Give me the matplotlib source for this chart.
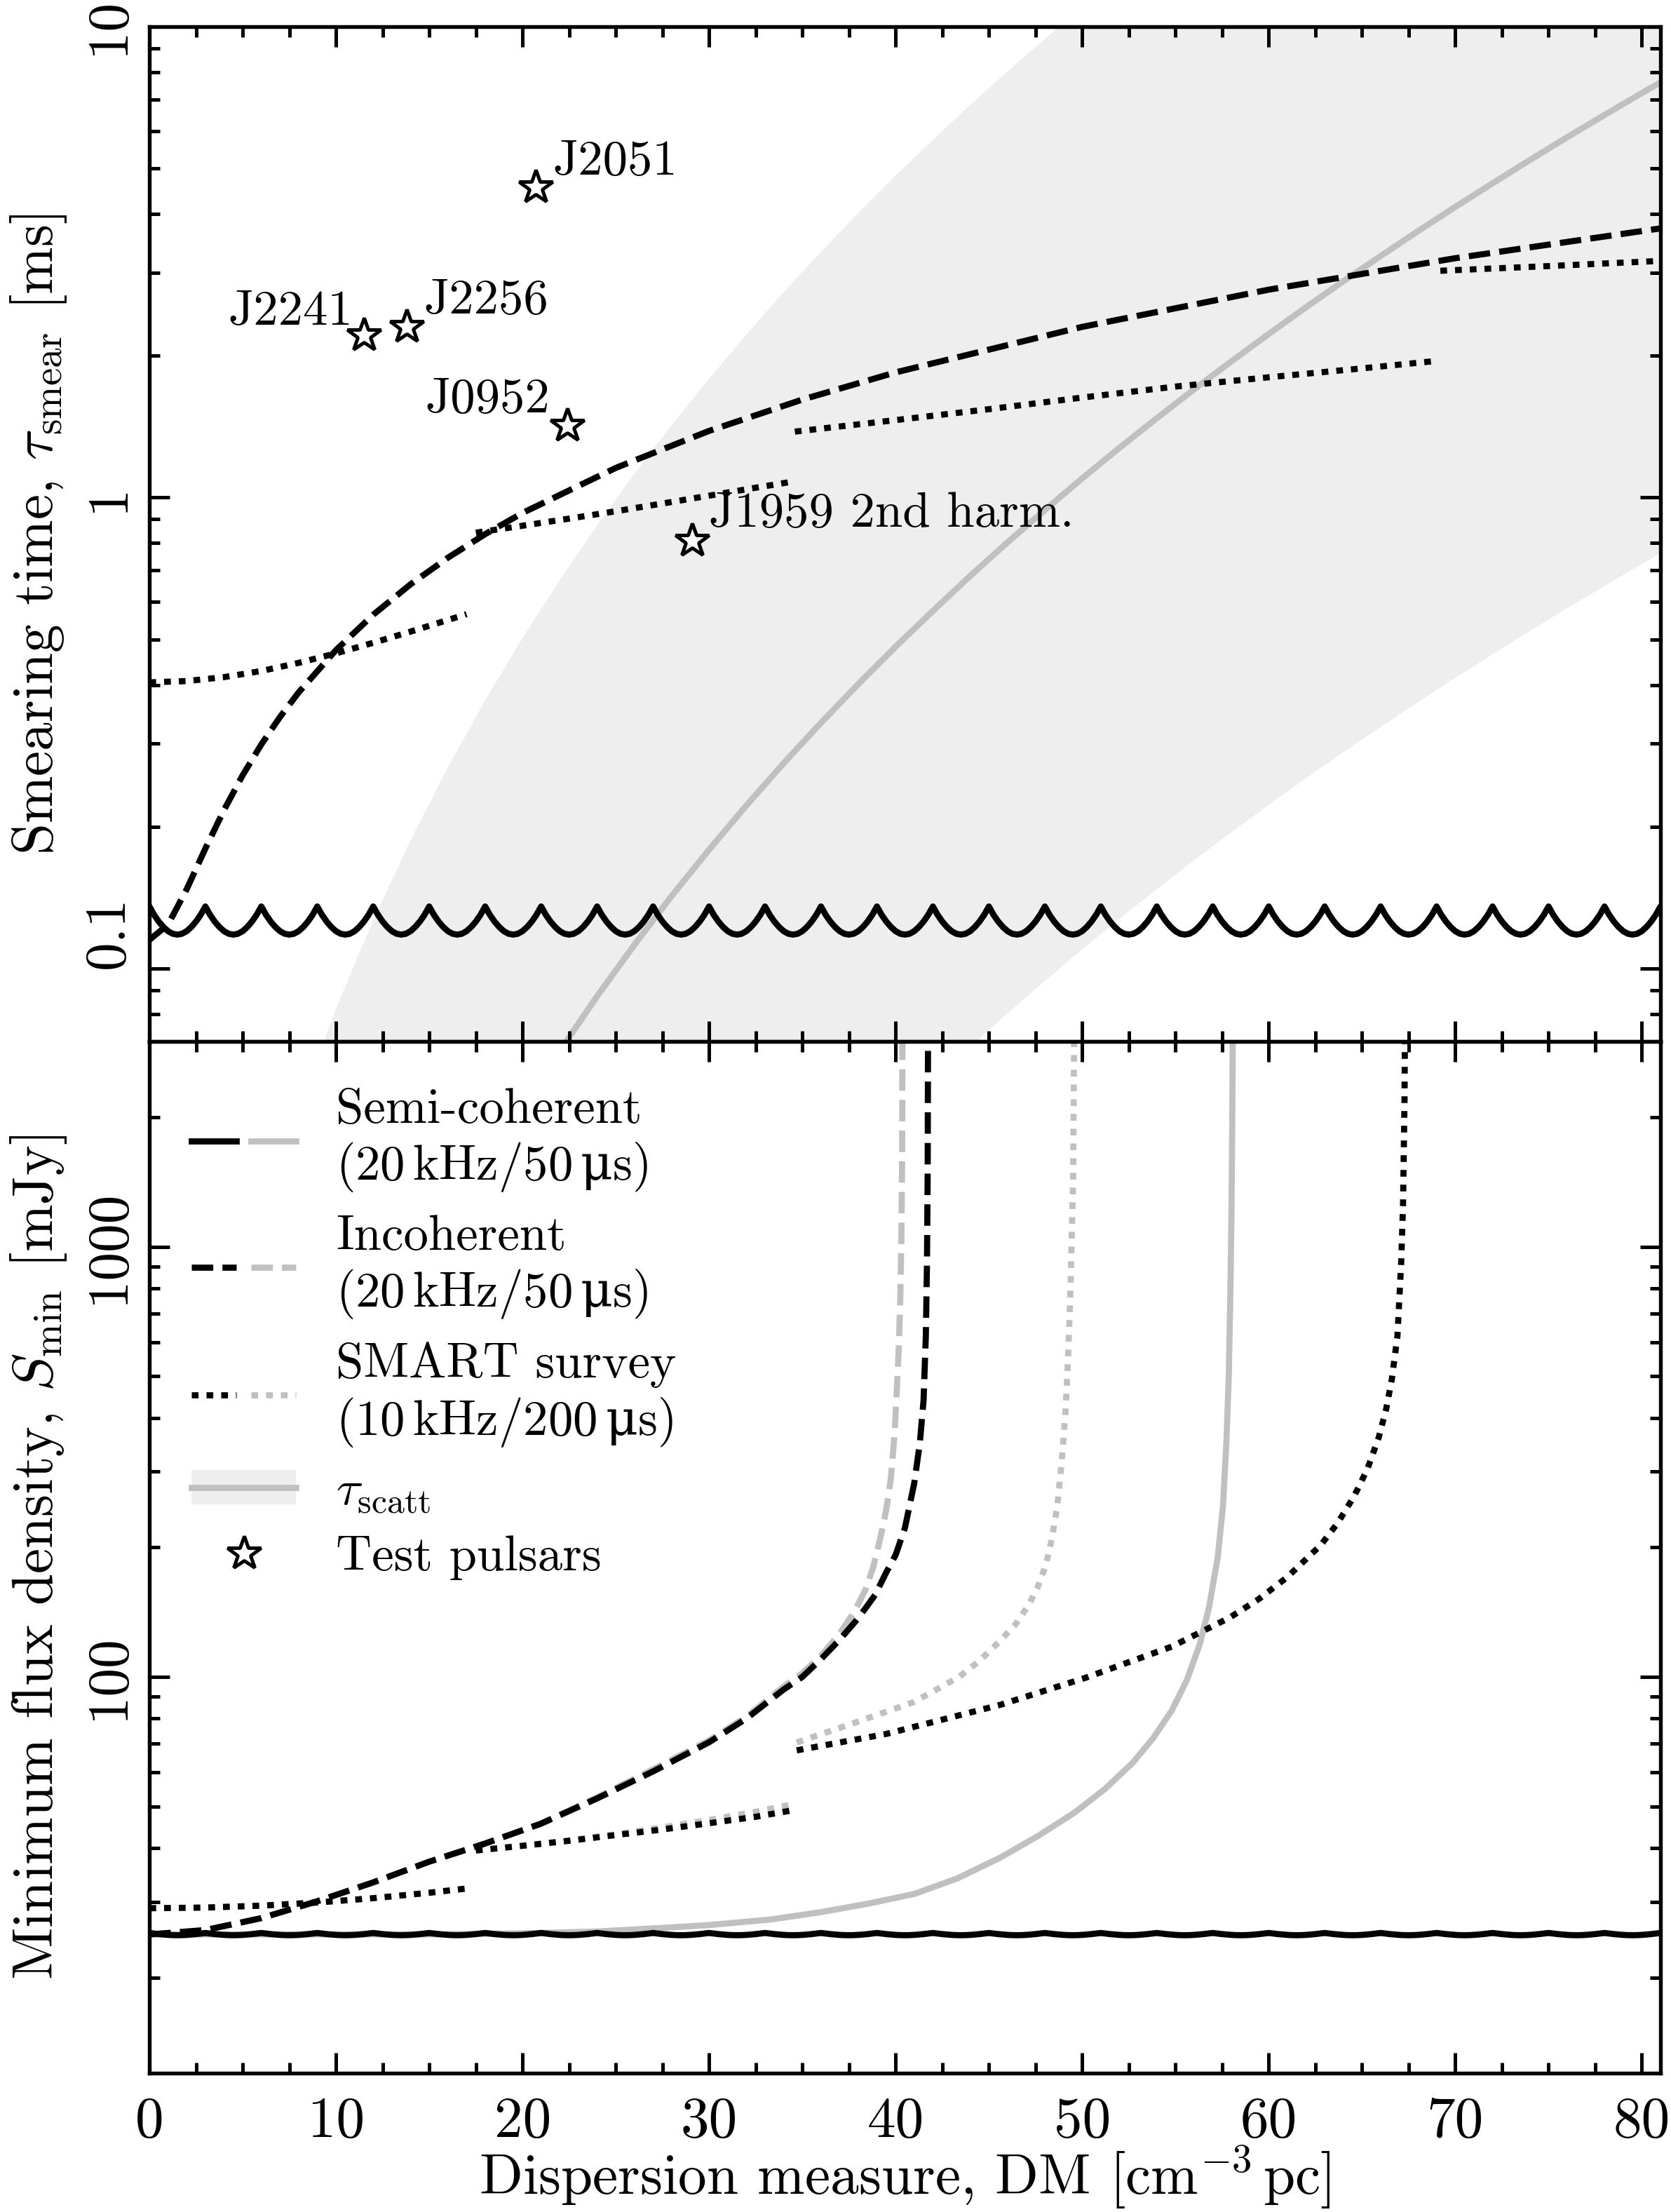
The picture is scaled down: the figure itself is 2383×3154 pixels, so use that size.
import numpy as np
import matplotlib
matplotlib.use('Agg')
import matplotlib.pyplot as plt
from matplotlib.lines import Line2D
from matplotlib.patches import Patch
from matplotlib.legend_handler import HandlerTuple
from matplotlib.ticker import MultipleLocator, LogLocator, NullFormatter

plt.rcParams['font.family'] = ['cmr10', 'DejaVu Serif']
plt.rcParams['mathtext.fontset'] = 'cm'
plt.rcParams['axes.unicode_minus'] = False
plt.rcParams['axes.formatter.use_mathtext'] = True

GREY = '#c0c0c0'
BAND = '#eeeeee'
LW = 2.1
DASH = (0, (3.5, 1.5))
DOT = (0, (1.1, 1.3))

# ---------------- data: top panel (smearing time, ms) ----------------
# semi-coherent: trial DMs every 3 pc/cc, one half-period of the scallop
semi_trial_dm = np.arange(1.5, 84, 3.0)
semi_offset = [0.0, 0.25, 0.5, 0.75, 1.0, 1.25, 1.5]
semi_tsmear = [0.118, 0.1185, 0.1200, 0.1225, 0.1258, 0.1300, 0.1354]
semi_smin = [25.10, 25.11, 25.14, 25.19, 25.25, 25.32, 25.40]

inc_dm = [0, 1, 2, 3, 4, 5, 6, 7, 8, 10, 12, 14, 16, 18, 20, 25, 30, 35, 40, 50, 60, 70, 81]
inc_tsmear = [0.115, 0.1239, 0.1473, 0.1797, 0.2170, 0.2572, 0.2990, 0.3419, 0.3856,
              0.4742, 0.5639, 0.6542, 0.7449, 0.8360, 0.9272, 1.1557, 1.3848, 1.6141,
              1.8436, 2.3029, 2.7624, 3.2220, 3.7278]

smart_dm = [
    [0, 2, 4, 6, 8, 10, 12, 14, 17],
    [17.5, 20, 22.5, 25, 27.5, 30, 32.5, 34.5],
    [34.6, 40, 45, 50, 55, 60, 65, 69],
    [69.2, 75, 81],
]
smart_tsmear = [
    [0.405, 0.4076, 0.4155, 0.4282, 0.4455, 0.4668, 0.4915, 0.5191, 0.5653],
    [0.842, 0.871, 0.902, 0.935, 0.971, 1.009, 1.049, 1.081],
    [1.38, 1.46, 1.54, 1.63, 1.72, 1.80, 1.88, 1.95],
    [3.03, 3.10, 3.18],
]

scatt_dm = [8, 10, 12, 14, 16, 18, 20, 22, 24, 26, 28, 30, 32, 34, 36, 38, 40, 42, 44,
            46, 48, 50, 52, 54, 56, 58, 60, 62, 64, 66, 68, 70, 72, 74, 76, 78, 80, 81]
scatt_tau = [0.00503, 0.00821, 0.01266, 0.01872, 0.02673, 0.0371, 0.0503, 0.0668,
             0.0873, 0.1123, 0.1426, 0.1787, 0.2218, 0.2728, 0.3323, 0.4018, 0.4822,
             0.5745, 0.6816, 0.8031, 0.9406, 1.098, 1.275, 1.473, 1.697, 1.946, 2.224,
             2.535, 2.879, 3.256, 3.678, 4.140, 4.647, 5.207, 5.821, 6.489, 7.223, 7.611]
scatt_spread = 10.0  # band spans one decade either side

pulsar_names = ['J2051', 'J2256', 'J2241', 'J0952', 'J1959 2nd harm.']
pulsar_dm = [20.7, 13.8, 11.5, 22.4, 29.1]
pulsar_tsmear = [4.55, 2.30, 2.21, 1.42, 0.81]

# ---------------- data: bottom panel (S_min, mJy) ----------------
semi_scatt_dm = [0, 15, 20, 24, 27.5, 30, 33.3, 36, 38.5, 41, 43.3, 45.6, 47.6, 49.6,
                 51.2, 52.7, 53.8, 54.8, 55.6, 56.3, 56.8, 57.27, 57.55, 57.73, 57.86,
                 57.94, 58.0, 58.04, 58.07, 58.1]
semi_scatt_smin = [25.2, 25.2, 25.35, 25.6, 26.1, 26.5, 27.3, 28.4, 29.7, 31.3, 34.0,
                   38.0, 42.6, 48.4, 54.8, 63.1, 72.0, 83.5, 98.0, 119, 145, 190, 250,
                   350, 500, 760, 1150, 1800, 2900, 5000]

inc_smin_dm = [0, 3, 6, 9, 12, 15, 18, 21, 24, 27, 30, 32, 34, 35, 36, 37, 38, 38.9,
               39.5, 40.0, 40.5, 41.0, 41.3, 41.5, 41.62, 41.68, 41.72, 41.75]
inc_smin = [25.2, 25.8, 27.5, 30.1, 33.3, 37.2, 41.0, 45.6, 52.2, 60.3, 70.5, 80, 93.5,
            100, 110, 122, 137, 155, 175, 192, 222, 282, 350, 440, 620, 900, 1500, 5000]
inc_scatt_dm = [0, 3, 6, 9, 12, 15, 18, 21, 24, 27, 30, 32, 34, 35, 36, 37, 37.8, 38.4,
                38.8, 39.2, 39.5, 39.75, 39.95, 40.06, 40.17, 40.25, 40.31, 40.35, 40.38]
inc_scatt_smin = [25.2, 25.8, 27.5, 30.1, 33.3, 37.2, 41.0, 45.7, 52.5, 61.0, 71.2,
                  80.8, 95, 102, 112, 126, 142, 160, 180, 212, 245, 290, 370, 460, 580,
                  750, 1050, 1600, 5000]

smart_smin_dm = [
    [0, 3, 6, 9, 12, 15, 17.2],
    [17.5, 20, 22.5, 25, 27.5, 30, 32.5, 34.5],
    [34.7, 39.5, 45.6, 50.2, 54.8, 57.9, 59.5, 61.0, 62.8, 63.7, 64.6, 65.3, 65.9, 66.3,
     66.6, 66.9, 67.1, 67.2, 67.28, 67.33],
]
smart_smin = [
    [29.0, 29.1, 29.4, 29.9, 30.6, 31.5, 32.3],
    [39.5, 40.5, 41.6, 42.9, 44.2, 45.7, 47.3, 49.0],
    [67.5, 73.7, 86.1, 99.6, 117.6, 137.3, 152, 170.7, 202.7, 228, 264, 305, 360.5, 420,
     492, 620, 916, 1250, 2200, 5000],
]
smart_scatt_dm = [
    [0, 3, 6, 9, 12, 15, 17.2],
    [17.5, 20, 22.5, 25, 27.5, 30, 32.5, 34.5],
    [34.7, 37.9, 41.0, 43.4, 44.5, 45.6, 46.4, 47.1, 47.6, 48.05, 48.35, 48.66, 48.9,
     49.12, 49.25, 49.37, 49.52, 49.6],
]
smart_scatt_smin = [
    [29.0, 29.1, 29.4, 29.9, 30.6, 31.5, 32.3],
    [39.5, 40.5, 41.7, 43.1, 44.7, 46.5, 48.6, 50.6],
    [70.4, 78.5, 87.5, 100, 109, 121.3, 132, 146.2, 161, 181.8, 207, 248, 315, 421, 560,
     784, 1462, 5000],
]


def scallop(trials, offs, vals):
    # mirror one half-period around every trial DM
    xs, ys = [], []
    for d in trials:
        for o, v in zip(offs[::-1], vals[::-1]):
            xs.append(d - o)
            ys.append(v)
        for o, v in zip(offs[1:], vals[1:]):
            xs.append(d + o)
            ys.append(v)
    return np.array(xs), np.array(ys)


fig = plt.figure(figsize=(2383 / 300, 3154 / 300), dpi=300)
ax1 = fig.add_axes([0.0894, 0.5292, 0.9043, 0.4588])
ax2 = fig.add_axes([0.0894, 0.0628, 0.9043, 0.4664])

# ---- top panel ----
tau = np.array(scatt_tau)
ax1.fill_between(scatt_dm, tau / scatt_spread, tau * scatt_spread, color=BAND, lw=0, zorder=0)
ax1.plot(scatt_dm, tau, color=GREY, lw=LW, zorder=1)

sx, sy = scallop(semi_trial_dm, semi_offset, semi_tsmear)
ax1.plot(sx, sy, color='k', lw=LW, zorder=3)
ax1.plot(inc_dm, inc_tsmear, color='k', lw=LW, ls=DASH, zorder=3)
for d, t in zip(smart_dm, smart_tsmear):
    ax1.plot(d, t, color='k', lw=LW, ls=DOT, zorder=3)

ax1.plot(pulsar_dm, pulsar_tsmear, ls='none', marker='*', ms=12, mfc='white',
         mec='k', mew=1.2, zorder=5)
label_offsets = [(6, 4.4), (5.8, 4.7), (-3.8, 3.8), (-5.9, 4.7), (5.8, 4.8)]
for name, d, t, off in zip(pulsar_names, pulsar_dm, pulsar_tsmear, label_offsets):
    ax1.annotate(name, (d, t), xytext=off, textcoords='offset points',
                 ha='left' if off[0] > 0 else 'right', va='baseline', fontsize=17)

# ---- bottom panel ----
bx, by = scallop(semi_trial_dm, semi_offset, semi_smin)
ax2.plot(semi_scatt_dm, semi_scatt_smin, color=GREY, lw=LW, zorder=2)
ax2.plot(inc_scatt_dm, inc_scatt_smin, color=GREY, lw=LW, ls=DASH, zorder=2)
for d, s in zip(smart_scatt_dm, smart_scatt_smin):
    ax2.plot(d, s, color=GREY, lw=LW, ls=DOT, zorder=2)
ax2.plot(bx, by, color='k', lw=LW, zorder=3)
ax2.plot(inc_smin_dm, inc_smin, color='k', lw=LW, ls=DASH, zorder=3)
for d, s in zip(smart_smin_dm, smart_smin):
    ax2.plot(d, s, color='k', lw=LW, ls=DOT, zorder=3)

# ---- axes styling ----
for ax in (ax1, ax2):
    ax.set_yscale('log')
    ax.set_xlim(0, 81)
    ax.xaxis.set_major_locator(MultipleLocator(10))
    ax.xaxis.set_minor_locator(MultipleLocator(2.5))
    ax.yaxis.set_minor_locator(LogLocator(base=10, subs=np.arange(2, 10)))
    ax.yaxis.set_minor_formatter(NullFormatter())
    ax.tick_params(which='both', direction='in', top=True, right=True, width=1.2)
    ax.tick_params(which='major', length=7, labelsize=19.5)
    ax.tick_params(which='minor', length=3.5)
    ax.tick_params(axis='y', pad=5)
    ax.tick_params(axis='x', pad=8)
    for sp in ax.spines.values():
        sp.set_linewidth(1.3)

ax1.set_ylim(0.07, 10)
ax1.set_yticks([0.1, 1, 10])
ax1.set_yticklabels(['0.1', '1', '10'], rotation=90, va='center')
ax1.get_yticklabels()[0].set_va('bottom')
ax1.tick_params(labelbottom=False)
ax1.set_ylabel(r'Smearing time, $\tau_\mathrm{smear}$ [ms]', fontsize=19.5, labelpad=5)

ax2.set_ylim(12, 3000)
ax2.set_yticks([100, 1000])
ax2.set_yticklabels(['100', '1000'], rotation=90, va='center')
ax2.set_ylabel(r'Minimum flux density, $S_\mathrm{min}$ [mJy]', fontsize=19.5, labelpad=5)
ax2.set_xticks(range(0, 81, 10))
ax2.set_xticklabels([str(v) for v in range(0, 81, 10)])
ax2.set_xlabel(r'Dispersion measure, DM [cm$^{-3}\,$pc]', fontsize=19.5, labelpad=-1.5)

# ---- legend ----
h_semi = (Line2D([], [], color='k', lw=LW), Line2D([], [], color=GREY, lw=LW))
h_inc = (Line2D([], [], color='k', lw=LW, ls=DASH), Line2D([], [], color=GREY, lw=LW, ls=DASH))
h_smart = (Line2D([], [], color='k', lw=LW, ls=DOT), Line2D([], [], color=GREY, lw=LW, ls=DOT))
h_scatt = (Patch(facecolor=BAND, edgecolor='none'), Line2D([], [], color=GREY, lw=LW))
h_star = Line2D([], [], ls='none', marker='*', ms=12, mfc='white', mec='k', mew=1.2)
pair = HandlerTuple(ndivide=None, pad=0.3)
labels = [r'Semi-coherent' '\n' r'(20$\,$kHz/50$\,\mathrm{\mu}$s)',
          r'Incoherent' '\n' r'(20$\,$kHz/50$\,\mathrm{\mu}$s)',
          r'SMART survey' '\n' r'(10$\,$kHz/200$\,\mathrm{\mu}$s)',
          r'$\tau_\mathrm{scatt}$',
          'Test pulsars']
leg = ax2.legend([h_semi, h_inc, h_smart, h_scatt, h_star], labels,
                 handler_map={h_semi: pair, h_inc: pair, h_smart: pair,
                              h_scatt: HandlerTuple(ndivide=1)},
                 loc='upper left', bbox_to_anchor=(0.028, 0.955), frameon=False,
                 fontsize=17, handlelength=2.1, handletextpad=0.8, labelspacing=0.42,
                 borderpad=0, borderaxespad=0)
# upright micro sign is not in the Computer Modern math set
for txt in leg.get_texts()[:3]:
    txt.set_math_fontfamily('dejavuserif')

fig.savefig('out.png', dpi=300)
